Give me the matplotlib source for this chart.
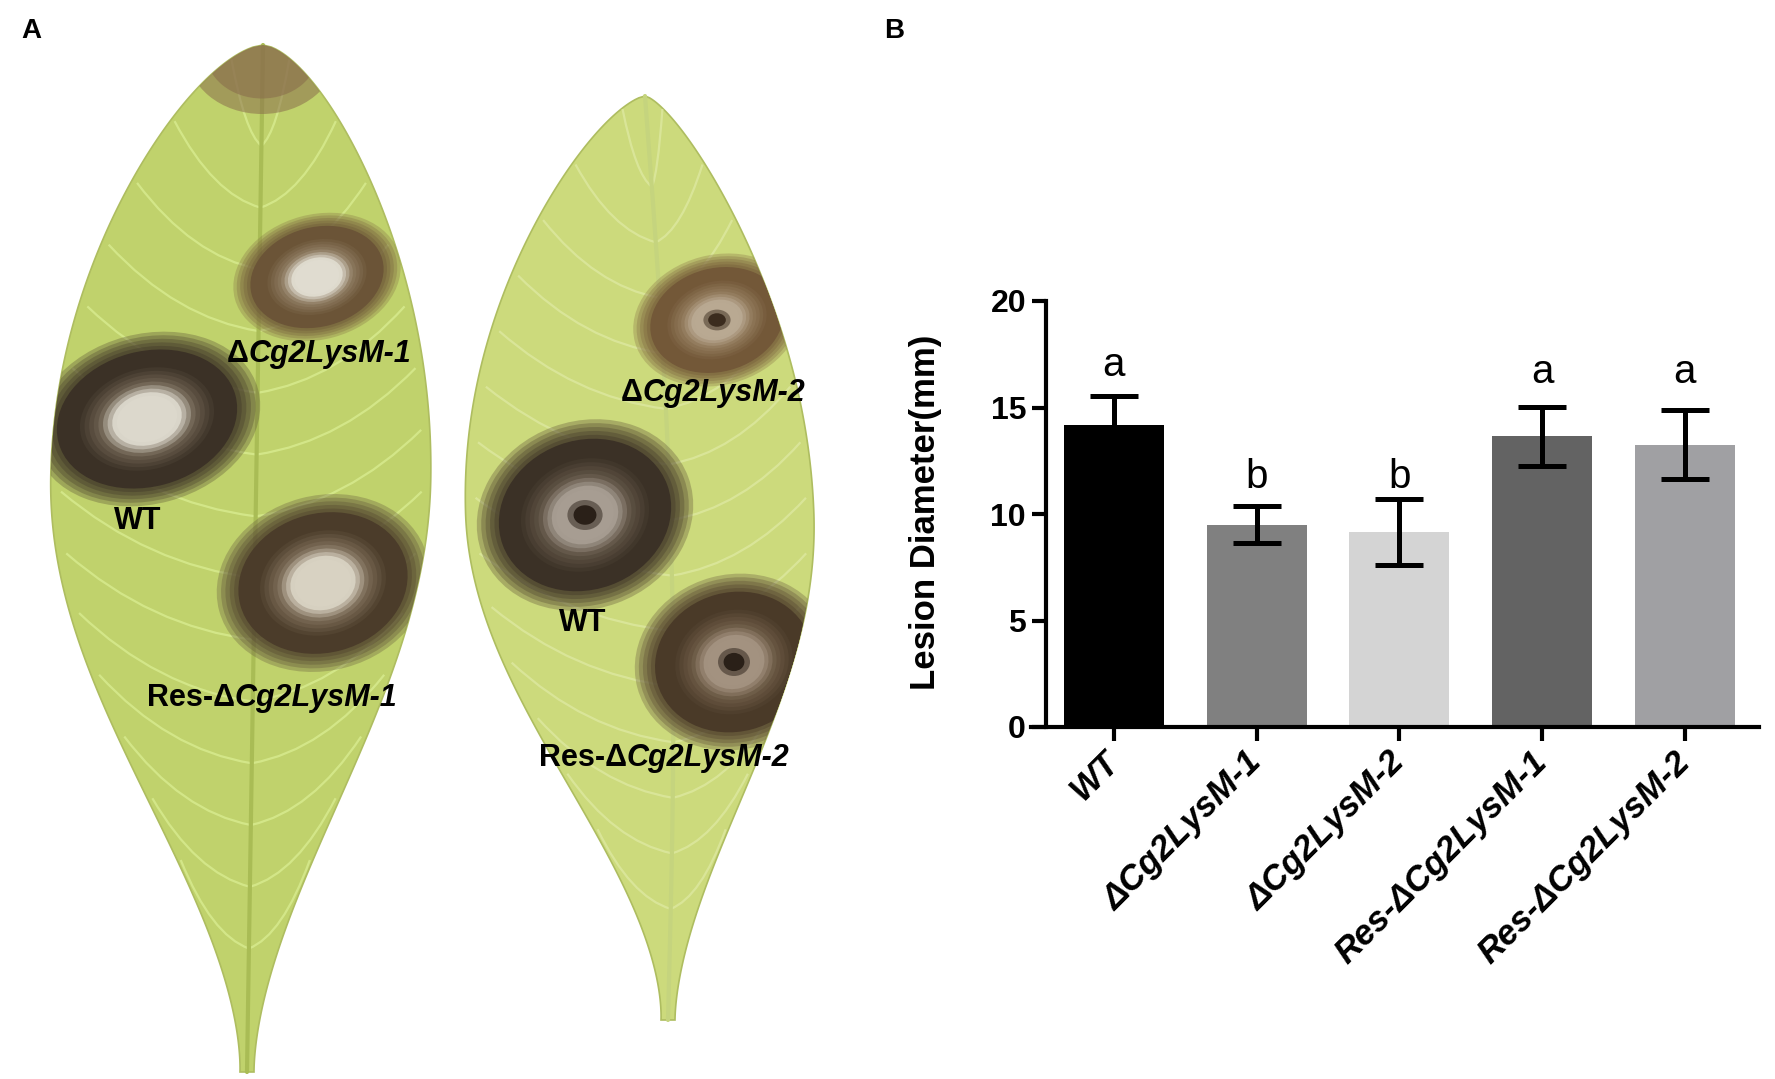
import numpy as np
import matplotlib
matplotlib.use('Agg')
import matplotlib.pyplot as plt
from matplotlib.patches import Polygon, Ellipse, PathPatch
from matplotlib.path import Path
from matplotlib.colors import to_rgb
from matplotlib.offsetbox import TextArea, HPacker, AnnotationBbox

plt.rcParams['font.family'] = ['Liberation Sans', 'DejaVu Sans']

# ---------------- data (panel B) ----------------
groups = ['WT', 'ΔCg2LysM-1', 'ΔCg2LysM-2', 'Res-ΔCg2LysM-1', 'Res-ΔCg2LysM-2']
means = [14.2, 9.5, 9.15, 13.65, 13.25]
errors = [1.35, 0.88, 1.55, 1.38, 1.62]
letters = ['a', 'b', 'b', 'a', 'a']
letter_y = [16.5, 11.2, 11.2, 16.15, 16.15]
bar_colors = ['#000000', '#808080', '#d4d4d4', '#636363', '#a0a0a3']
yticks = [0, 5, 10, 15, 20]
ylabel = 'Lesion Diameter(mm)'

# ---------------- panel A labels ----------------
leaf1_labels = [[('Δ', False), ('Cg2LysM-1', True)],
                [('WT', False)],
                [('Res-Δ', False), ('Cg2LysM-1', True)]]
leaf2_labels = [[('Δ', False), ('Cg2LysM-2', True)],
                [('WT', False)],
                [('Res-Δ', False), ('Cg2LysM-2', True)]]

W, H = 1775, 1079
fig = plt.figure(figsize=(W / 100, H / 100), dpi=100)

# ================= Panel A : stylised leaves =================
axL = fig.add_axes([0, 0, 887 / W, 1])
axL.set_xlim(0, 887)
axL.set_ylim(H, 0)
axL.axis('off')


def leaf(tip, base, wl, wr, tpeak, bend, qa=0.7, qb=1.5, petiole=7, n=500):
    t = np.linspace(0, 1, n)
    f = np.where(t < tpeak,
                 np.sin(np.pi / 2 * np.clip(t / tpeak, 0, 1)) ** qa,
                 np.cos(np.pi / 2 * np.clip((t - tpeak) / (1 - tpeak), 0, 1)) ** qb)
    y = tip[1] + t * (base[1] - tip[1])
    xc = tip[0] + t * (base[0] - tip[0]) + bend * np.sin(np.pi * t)
    left = xc - (wl * f + petiole * t ** 3)
    right = xc + (wr * f + petiole * t ** 3)
    xs = np.concatenate([right, left[::-1]])
    ys = np.concatenate([y, y[::-1]])
    return t, xc, y, left, right, np.column_stack([xs, ys])


def draw_leaf(tip, base, wl, wr, tpeak, bend, fill, vein, mid, qa, qb):
    t, xc, y, left, right, pts = leaf(tip, base, wl, wr, tpeak, bend, qa, qb)
    poly = Polygon(pts, closed=True, facecolor=fill, edgecolor='#aebd60', lw=1.2, zorder=1)
    axL.add_patch(poly)
    for tv in np.arange(0.1, 0.92, 0.06):
        i0 = int(tv * (len(t) - 1))
        i1 = max(int((tv - 0.085) * (len(t) - 1)), 0)
        for side in (left, right):
            x0, y0 = xc[i0], y[i0]
            x1 = xc[i1] + 0.95 * (side[i1] - xc[i1])
            y1 = y[i1]
            cx, cy = x0 + 0.55 * (x1 - x0), y0 - 0.15 * (y0 - y1)
            path = Path([(x0, y0), (cx, cy), (x1, y1)],
                        [Path.MOVETO, Path.CURVE3, Path.CURVE3])
            pp = PathPatch(path, fill=False, edgecolor=vein, lw=1.6, alpha=0.8, zorder=2)
            pp.set_clip_path(poly)
            axL.add_patch(pp)
    axL.plot(xc, y, color=mid, lw=3, zorder=3, solid_capstyle='round')
    return poly


def lesion(poly, c, rx, ry, ang, halo, ring, inner, center, dot=None):
    stops_s = [1.25, 1.05, 0.78, 0.55, 0.38, 0.0]
    stops_c = [to_rgb(halo), to_rgb(ring), to_rgb(ring), to_rgb(inner),
               to_rgb(center), to_rgb(center)]
    for s in np.linspace(1.25, 0.18, 22):
        col = [np.interp(-s, [-v for v in stops_s], [cc[k] for cc in stops_c]) for k in range(3)]
        a = 0.35 if s > 1.02 else 1.0
        e = Ellipse(c, 2 * rx * s, 2 * ry * s, angle=ang, facecolor=col, edgecolor='none',
                    alpha=a, zorder=4)
        e.set_clip_path(poly)
        axL.add_patch(e)
    if dot:
        for s, a in ((0.2, 0.5), (0.13, 1.0)):
            e = Ellipse(c, 2 * s * rx, 2 * s * ry, facecolor=dot, edgecolor='none',
                        alpha=a, zorder=4)
            axL.add_patch(e)


def label(xy, parts, fs=22):
    kids = [TextArea(s, textprops=dict(fontsize=fs, fontweight='bold',
                                       fontstyle='italic' if it else 'normal', color='black'))
            for s, it in parts]
    box = HPacker(children=kids, align='baseline', pad=0, sep=0)
    ab = AnnotationBbox(box, xy, xycoords='data', frameon=False, box_alignment=(0.5, 0.5),
                        zorder=6)
    axL.add_artist(ab)


# left leaf
p1 = draw_leaf((263, 45), (247, 1072), 205, 174, 0.42, 0, '#c0d26c', '#d8ec90', '#a9bc55',
               0.62, 1.7)
for s, a in ((1.0, 0.55), (0.75, 0.6)):
    tipb = Ellipse((262, 52), 2 * 75 * s, 2 * 62 * s, facecolor='#8a6e4c', edgecolor='none',
                   alpha=a, zorder=3)
    tipb.set_clip_path(p1)
    axL.add_patch(tipb)
lesion(p1, (317, 277), 68, 50, -15, '#8a7a48', '#6b5437', '#8d7a60', '#e0dcd0')
lesion(p1, (147, 419), 92, 68, -15, '#5e5436', '#3b3126', '#6a5d4d', '#dcd8cc')
lesion(p1, (323, 583), 86, 70, -15, '#6b6040', '#4b3c2a', '#7a6a55', '#d8d2c2')

# right leaf
p2 = draw_leaf((645, 96), (668, 1020), 204, 143, 0.45, 15, '#ccda7c', '#dde8a0', '#c5d47e',
               0.7, 1.7)
lesion(p2, (717, 320), 68, 52, -15, '#8e7a4a', '#735838', '#90785a', '#b9a992', '#3b2c1e')
lesion(p2, (585, 515), 88, 75, -20, '#625638', '#3b3126', '#5e5244', '#a79d92', '#2a2018')
lesion(p2, (734, 662), 80, 70, -15, '#6e6040', '#4a3a28', '#6a5843', '#a39280', '#2a2018')

for xy, parts in zip([(319, 354), (138, 521), (272, 698)], leaf1_labels):
    label(xy, parts)
for xy, parts in zip([(713, 393), (583, 623), (664, 758)], leaf2_labels):
    label(xy, parts)

# ================= Panel B : bar chart =================
ax = fig.add_axes([1045.5 / W, 1 - 727 / H, (1759 - 1045.5) / W, (727 - 301) / H])
x = np.arange(len(groups))
ax.bar(x, means, width=0.7, color=bar_colors, zorder=2)
ax.errorbar(x, means, yerr=errors, fmt='none', ecolor='black', elinewidth=3.6,
            capsize=17, capthick=3.6, zorder=3)
for xi, lt, ly in zip(x, letters, letter_y):
    ax.text(xi, ly, lt, ha='center', va='baseline', fontsize=29)

ax.set_xlim(-0.48, 4.52)
ax.set_ylim(0, 20)
for s in ('top', 'right'):
    ax.spines[s].set_visible(False)
for s in ('left', 'bottom'):
    ax.spines[s].set_linewidth(3)
ax.spines['bottom'].set_bounds(-0.58, 4.52)
ax.tick_params(axis='both', width=3, length=10, direction='out', pad=4)
ax.set_yticks(yticks)
ax.set_yticklabels([str(v) for v in yticks], fontsize=23, fontweight='bold')
ax.set_xticks(x)
ax.set_xticklabels(groups, rotation=45, ha='right', va='center', rotation_mode='anchor',
                   fontsize=25, fontweight='bold', fontstyle='italic')
ax.tick_params(axis='x', pad=12)

fig.text(926 / W, 1 - 512 / H, ylabel, rotation=90, ha='center', va='center',
         fontsize=25, fontweight='bold')

fig.text(31 / W, 1 - 31 / H, 'A', fontsize=20, fontweight='bold', ha='center', va='center')
fig.text(894 / W, 1 - 31 / H, 'B', fontsize=20, fontweight='bold', ha='center', va='center')

fig.savefig('out.png', dpi=100)
